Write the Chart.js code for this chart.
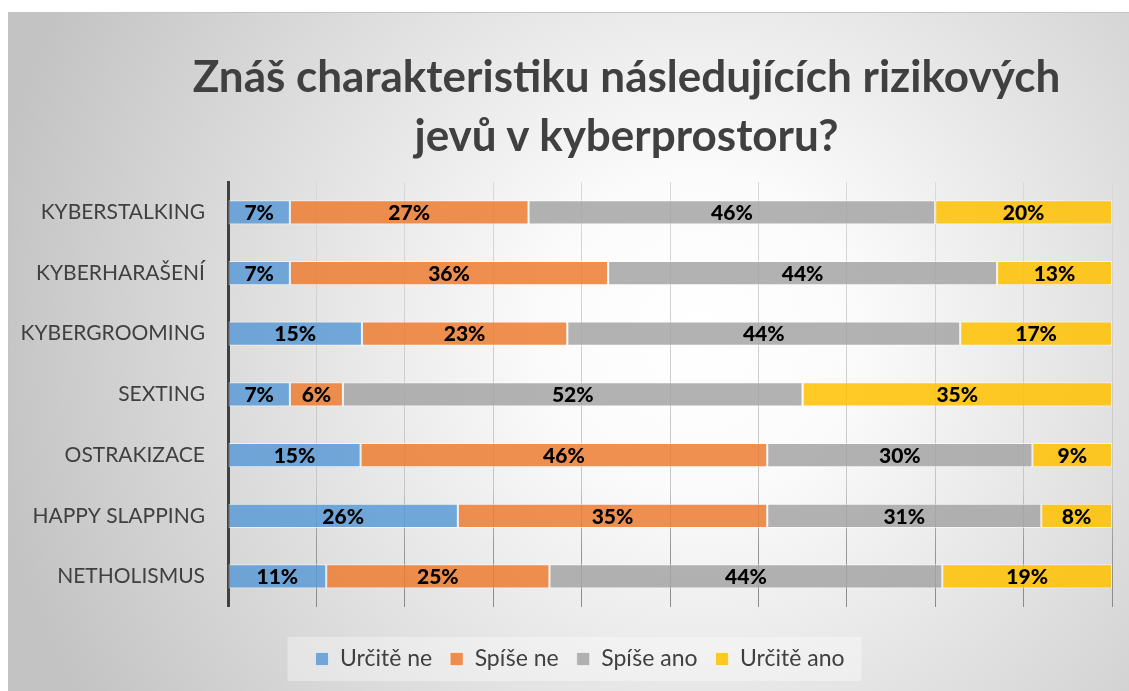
<!DOCTYPE html>
<html>
<head>
<meta charset="utf-8">
<script src="https://cdn.jsdelivr.net/npm/chart.js@4.4.0/dist/chart.umd.min.js"></script>
<style>
    html, body { margin: 0; padding: 0; background: #fff; overflow: hidden; }
    #frame {
        position: absolute; left: 8px; top: 12px; width: 1121px; height: 679px;
        border-top: 1px solid #c4c4c4; border-left: 1px solid #c4c4c4; box-sizing: border-box;
        background: radial-gradient(circle 720px at 690px 320px, #ffffff 0%, #fbfbfb 22%, #c3c3c3 100%);
    }
    #title {
        position: absolute; left: 0; top: 33px; width: 1235px; text-align: center;
        font: bold 44px Lato; line-height: 59px; color: #404040;
    }
    #wrap { position: absolute; left: -1px; top: -1px; width: 1121px; height: 679px; }
</style>
</head>
<body>
<div id="frame">
    <div id="wrap"><canvas id="risk_chart"></canvas></div>
    <div id="title">Znáš charakteristiku následujících rizikových<br>jevů v kyberprostoru?</div>
</div>
<script>
var categories = ['KYBERSTALKING', 'KYBERHARAŠENÍ', 'KYBERGROOMING', 'SEXTING', 'OSTRAKIZACE', 'HAPPY SLAPPING', 'NETHOLISMUS'];
var series_names = ['Určitě ne', 'Spíše ne', 'Spíše ano', 'Určitě ano'];
var urcite_ne = [7, 7, 15, 7, 15, 26, 11];
var spise_ne = [27, 36, 23, 6, 46, 35, 25];
var spise_ano = [46, 44, 44, 52, 30, 31, 44];
var urcite_ano = [20, 13, 17, 35, 9, 8, 19];

var all_series = [urcite_ne, spise_ne, spise_ano, urcite_ano];
var fills = ['rgba(91,155,213,0.85)', 'rgba(237,125,49,0.85)', 'rgba(165,165,165,0.85)', 'rgba(255,192,0,0.85)'];

// 100% stacked: each row is scaled to its own total
var totals = categories.map((c, j) => all_series.reduce((s, arr) => s + arr[j], 0));

var datasets = all_series.map((arr, i) => ({
    label: series_names[i],
    data: arr.map((v, j) => v / totals[j] * 100),
    pct: arr,
    backgroundColor: fills[i],
    borderColor: 'rgba(255,255,255,0.55)',
    borderWidth: 1,
    borderSkipped: false,
    barPercentage: 0.4,
    categoryPercentage: 1,
}));

var bar_labels = {
    id: 'bar_labels',
    afterDatasetsDraw(chart) {
        var ctx = chart.ctx;
        ctx.save();
        ctx.font = '900 21px Lato';
        ctx.fillStyle = '#000';
        ctx.textAlign = 'center';
        ctx.textBaseline = 'middle';
        chart.data.datasets.forEach((ds, i) => {
            chart.getDatasetMeta(i).data.forEach((bar, j) => {
                var p = bar.getCenterPoint();
                ctx.fillText(ds.pct[j] + '%', p.x, p.y + 1);
            });
        });
        ctx.restore();
    }
}

// legend sits a bit right of the canvas centre, on a faint lighter panel
var legend_panel = {
    id: 'legend_panel',
    afterLayout(chart) {
        var lg = chart.legend;
        lg.left += 20;
        lg.right += 20;
        lg.legendHitBoxes.forEach(b => { b.left += 20; });
    },
    beforeDraw(chart) {
        var lg = chart.legend;
        if (!lg || !lg.legendHitBoxes.length) return;
        var boxes = lg.legendHitBoxes;
        var x0 = boxes[0].left - 28;
        var last = boxes[boxes.length - 1];
        var x1 = last.left + last.width + 17;
        var yc = boxes[0].top + boxes[0].height / 2;
        var ctx = chart.ctx;
        ctx.save();
        ctx.fillStyle = 'rgba(255,255,255,0.35)';
        ctx.fillRect(x0, yc - 22, x1 - x0, 44);
        ctx.restore();
    }
}

var risk_chart = new Chart(document.getElementById('risk_chart'), {
    type: 'bar',
    data: {
        labels: categories,
        datasets: datasets
    },
    options: {
        indexAxis: 'y',
        responsive: true,
        maintainAspectRatio: false,
        animation: false,
        layout: {
            padding: { left: 0, right: 17, top: 170, bottom: 10.5 }
        },
        scales: {
            x: {
                stacked: true,
                min: 0,
                max: 100,
                ticks: { display: false, stepSize: 10 },
                border: { display: false },
                grid: {
                    drawTicks: false,
                    lineWidth: 1,
                    color: function (c) {
                        var a = c.chart.chartArea;
                        if (!a) return '#d0d0d0';
                        var g = c.chart.ctx.createLinearGradient(0, a.top, 0, a.bottom);
                        g.addColorStop(0, '#d9d9d9');
                        g.addColorStop(0.72, '#c6c6c6');
                        g.addColorStop(0.85, '#9a9a9a');
                        g.addColorStop(1, '#8a8a8a');
                        return g;
                    }
                },
                afterFit: function (scale) { scale.height = 22.7; }
            },
            y: {
                stacked: true,
                grid: { display: false, drawTicks: false },
                border: { display: true, color: '#404040', width: 3 },
                ticks: {
                    color: '#404040',
                    padding: 23,
                    font: { family: 'Lato', size: 21 }
                },
                afterFit: function (scale) { scale.width = 220; }
            }
        },
        plugins: {
            legend: {
                position: 'bottom',
                labels: {
                    color: '#404040',
                    boxWidth: 13,
                    boxHeight: 13,
                    padding: 18,
                    font: { family: 'Lato', size: 23 }
                }
            },
            title: { display: false },
            tooltip: { enabled: false }
        }
    },
    plugins: [legend_panel, bar_labels]
})
</script>
</body>
</html>
